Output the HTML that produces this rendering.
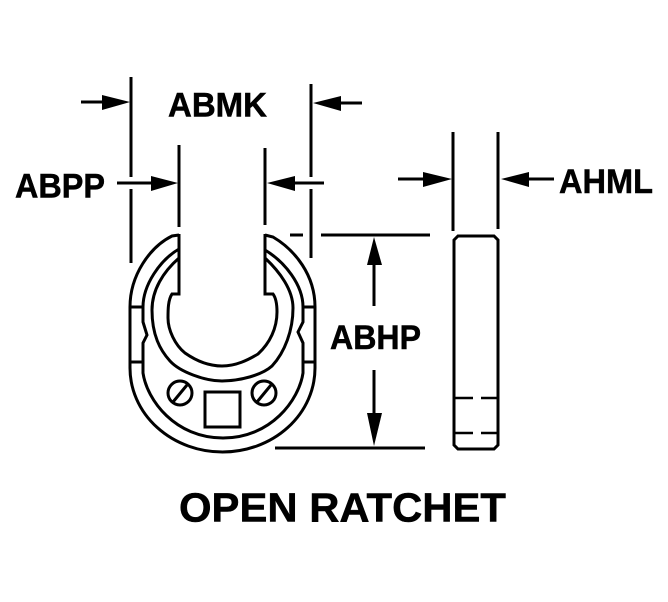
<!DOCTYPE html>
<html><head><meta charset="utf-8"><style>
html,body{margin:0;padding:0;background:#fff;width:668px;height:602px;overflow:hidden}
svg{display:block}
text{font-family:"Liberation Sans",Arial,sans-serif;font-weight:bold;fill:#000;stroke:#000;stroke-width:.5}
</style></head><body>
<svg width="668" height="602" viewBox="0 0 668 602" xmlns="http://www.w3.org/2000/svg">
<g fill="none" stroke="#000" stroke-width="3">
<!-- extension lines -->
<path d="M131 77V177M131 189V263M311 84V177M311 189V258M179 145V227M265 148V225M453 132V231M498 132V229"/>
<!-- dimension lines -->
<path d="M81 102H104M362 103H340M117 183H152M324 183H294M398 179H424M554 179H528M290 235H303M321 235H430M275 448H425M374 264V306M374 370V414"/>
<!-- outer rim -->
<path d="M179 235L172 236C150 247 130 275 130 307V368A92.500 84 0 0 0 315 368V307C315 275 295 250 273 237L265 235"/>
<path d="M179 249C160 260 143 285 143 307V322L147 335L143 343V373C147 400 175 438 223 438C271 438 299 400 303 373V343L298 332L303 322V307C303 285 285 262 265 250"/>
<path d="M179 258C163 272 152 290 152 310C152 335 160 350 170 361C180 372 205 381 222 381C240 381 262 375 272 366C285 352 293 330 293 308C293 290 280 272 265 258"/>
<!-- opening -->
<path d="M179 234V294H172C168 300 168 310 168 318C168 330 175 345 185 353C195 360 208 366 222 366C236 366 248 360 258 354C270 343 277 328 277 312C277 305 276 298 273 294H265V234"/>
<!-- rim ticks -->
<path d="M130 307H143M130 362H143M303 307H315M303 362H315"/>
<!-- screws and square -->
<circle cx="180" cy="393" r="12"/>
<circle cx="264" cy="393" r="12"/>
<path d="M173 402L187 385M257 402L271 385"/>
<rect x="205" y="392" width="35" height="35"/>
<!-- side view -->
<path d="M454 240L458 236H494L498 240V445L494 449H458L454 445Z"/>
<path d="M454 398H473M481 398H497M454 433H473M481 433H497" stroke-width="2.5"/>
</g>
<!-- arrowheads -->
<g fill="#000">
<polygon points="130,102 102,95 102,110"/>
<polygon points="313,103 341,96 341,111"/>
<polygon points="178,183 151,176 151,191"/>
<polygon points="267,183 295,176 295,191"/>
<polygon points="452,179 423,172 423,187"/>
<polygon points="501,179 529,172 529,187"/>
<polygon points="374,237 367,265 382,265"/>
<polygon points="374,446 367,413 382,413"/>
</g>
<text x="168" y="116.500" font-size="34.500" textLength="99" lengthAdjust="spacingAndGlyphs">ABMK</text>
<text x="15" y="197.500" font-size="34.500" textLength="90" lengthAdjust="spacingAndGlyphs">ABPP</text>
<text x="559" y="193" font-size="34.500" textLength="94" lengthAdjust="spacingAndGlyphs">AHML</text>
<text x="330" y="349" font-size="34.500" textLength="91" lengthAdjust="spacingAndGlyphs">ABHP</text>
<text x="179" y="521.500" font-size="41" textLength="327" lengthAdjust="spacingAndGlyphs">OPEN RATCHET</text>
</svg>
</body></html>
